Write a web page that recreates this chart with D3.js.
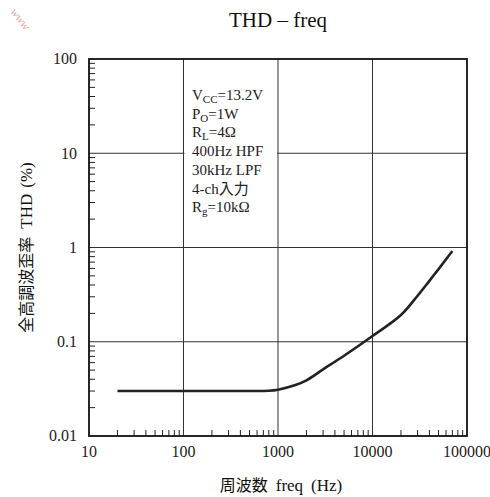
<!DOCTYPE html>
<html><head><meta charset="utf-8">
<script src="https://cdn.jsdelivr.net/npm/d3@7"></script>
<style>body{margin:0;background:#fff}svg{display:block}</style>
</head><body>
<script>
const freq = [20, 50, 100, 200, 500, 800, 1000, 1500, 2000, 3000, 5000, 10000, 20000, 30000, 40000, 50000, 70000];
const thd  = [0.03, 0.03, 0.03, 0.03, 0.03, 0.0302, 0.031, 0.0345, 0.039, 0.051, 0.071, 0.115, 0.192, 0.308, 0.443, 0.59, 0.92];
const xTicks = [10, 100, 1000, 10000, 100000];
const yTicks = [0.01, 0.1, 1, 10, 100];
const xTickLabels = ["10", "100", "1000", "10000", "100000"];
const yTickLabels = ["0.01", "0.1", "1", "10", "100"];
const conditions = [
  [["V", ""], ["CC", "sub"], ["=13.2V", ""]],
  [["P", ""], ["O", "sub"], ["=1W", ""]],
  [["R", ""], ["L", "sub"], ["=4Ω", ""]],
  [["400Hz HPF", ""]],
  [["30kHz LPF", ""]],
  [["4-ch", ""], ["入力", "cjk"]],
  [["R", ""], ["g", "sub"], ["=10kΩ", ""]]
];
const title = "THD – freq";

const W = 490, H = 497;
const L = 89, R = 467, T = 59, B = 436;
const serif = "'Liberation Serif','Times New Roman',serif";
const cjk = "'Noto Sans CJK JP','Noto Sans CJK SC',sans-serif";

const svg = d3.select("body").append("svg").attr("width", W).attr("height", H);
const x = d3.scaleLog().domain([10, 100000]).range([L, R]);
const y = d3.scaleLog().domain([0.01, 100]).range([B, T]);

// watermark fragment
svg.append("text").attr("transform", "translate(10,12) rotate(52)")
  .attr("font-family", serif).attr("font-size", 12).attr("font-style", "italic")
  .attr("fill", "#f3a3a3").text("www");

// title
svg.append("text").attr("x", 278).attr("y", 27).attr("text-anchor", "middle")
  .attr("font-family", serif).attr("font-size", 21).attr("fill", "#111").text(title);

const g = svg.append("g");

// minor ticks
const minorX = [];
for (let d = 10; d < 100000; d *= 10) for (let k = 2; k <= 9; k++) minorX.push(d * k);
const minorY = [];
for (let d = 0.01; d < 99; d *= 10) for (let k = 2; k <= 9; k++) minorY.push(+(d * k).toPrecision(3));
g.selectAll(".mx").data(minorX).enter().append("line")
  .attr("x1", d => x(d)).attr("x2", d => x(d)).attr("y1", B).attr("y2", B - 6)
  .attr("stroke", "#222").attr("stroke-width", 1);
g.selectAll(".my").data(minorY).enter().append("line")
  .attr("y1", d => y(d)).attr("y2", d => y(d)).attr("x1", L).attr("x2", L + 6)
  .attr("stroke", "#222").attr("stroke-width", 1);

// grid
g.selectAll(".gx").data(xTicks.slice(1, -1)).enter().append("line")
  .attr("x1", d => x(d)).attr("x2", d => x(d)).attr("y1", T).attr("y2", B)
  .attr("stroke", "#333").attr("stroke-width", 1);
g.selectAll(".gy").data(yTicks.slice(1, -1)).enter().append("line")
  .attr("y1", d => y(d)).attr("y2", d => y(d)).attr("x1", L).attr("x2", R)
  .attr("stroke", "#333").attr("stroke-width", 1);

// condition box (white, between 100 and 1000 Hz)
g.append("rect").attr("x", x(100) + 1).attr("y", 82)
  .attr("width", x(1000) - x(100) - 2).attr("height", 140).attr("fill", "#fff");

conditions.forEach((line, i) => {
  const base = 100 + i * 18.7;
  const t = g.append("text").attr("x", 192).attr("y", base)
    .attr("font-family", serif).attr("font-size", 15).attr("fill", "#222");
  let prevSub = false;
  line.forEach(([s, kind]) => {
    const ts = t.append("tspan").text(s);
    if (kind === "sub") { ts.attr("font-size", 11).attr("dy", 3); prevSub = true; return; }
    if (kind === "cjk") ts.attr("font-family", cjk).attr("font-size", 15);
    if (prevSub) ts.attr("dy", -3);
    prevSub = false;
  });
});

// curve
const pts = freq.map((f, i) => [f, thd[i]]);
g.append("path").datum(pts)
  .attr("d", d3.line().x(d => x(d[0])).y(d => y(d[1])).curve(d3.curveCatmullRom.alpha(0.5)))
  .attr("fill", "none").attr("stroke", "#222").attr("stroke-width", 2.6)
  .attr("stroke-linejoin", "round");

// frame
g.append("rect").attr("x", L).attr("y", T).attr("width", R - L).attr("height", B - T)
  .attr("fill", "none").attr("stroke", "#111").attr("stroke-width", 1.8);

// tick labels
g.selectAll(".xl").data(xTicks).enter().append("text")
  .attr("x", d => x(d)).attr("y", 457).attr("text-anchor", "middle")
  .attr("font-family", serif).attr("font-size", 16).attr("fill", "#222")
  .text((d, i) => xTickLabels[i]);
g.selectAll(".yl").data(yTicks).enter().append("text")
  .attr("x", 77).attr("y", d => y(d)).attr("dy", "0.33em").attr("text-anchor", "end")
  .attr("font-family", serif).attr("font-size", 16).attr("fill", "#222")
  .text((d, i) => yTickLabels[i]);

// axis labels
const xl = svg.append("text").attr("x", 281).attr("y", 491).attr("text-anchor", "middle")
  .attr("fill", "#111");
xl.append("tspan").attr("font-family", cjk).attr("font-size", 16).text("周波数");
xl.append("tspan").attr("font-family", serif).attr("font-size", 17).attr("dx", 8).text("freq");
xl.append("tspan").attr("font-family", serif).attr("font-size", 17).attr("dx", 8).text("(Hz)");

const yl = svg.append("text").attr("transform", `translate(32,${(T + B) / 2}) rotate(-90)`)
  .attr("text-anchor", "middle").attr("fill", "#111");
yl.append("tspan").attr("font-family", cjk).attr("font-size", 16).text("全高調波歪率");
yl.append("tspan").attr("font-family", serif).attr("font-size", 17).attr("dx", 8).text("THD");
yl.append("tspan").attr("font-family", serif).attr("font-size", 17).attr("dx", 6).text("(%)");
</script>
</body></html>
